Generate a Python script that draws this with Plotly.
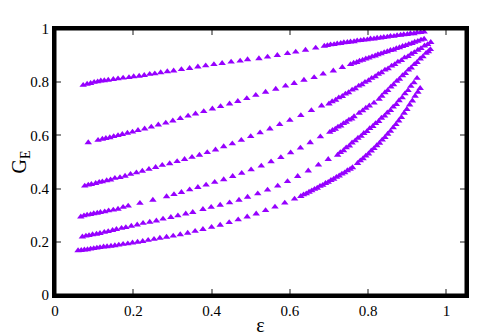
import plotly.graph_objects as go

# ---- data ----
eps1 = [0.072, 0.082, 0.091, 0.100, 0.109, 0.117, 0.126, 0.136, 0.149, 0.161, 0.174, 0.189, 0.201, 0.215, 0.228,
        0.242, 0.255, 0.270, 0.287, 0.303, 0.323, 0.344, 0.365, 0.385, 0.406, 0.427, 0.450, 0.473, 0.492, 0.521,
        0.543, 0.568, 0.594, 0.615, 0.640, 0.666,
        0.688, 0.696, 0.704, 0.713, 0.721, 0.730, 0.738, 0.747, 0.755, 0.764, 0.772, 0.781, 0.789, 0.798, 0.806,
        0.815, 0.823, 0.832, 0.840, 0.849, 0.857, 0.866, 0.874, 0.883, 0.891, 0.900, 0.908, 0.917, 0.925, 0.934, 0.943]
g1 = [0.789, 0.793, 0.796, 0.800, 0.802, 0.805, 0.806, 0.808, 0.811, 0.813, 0.816, 0.818, 0.821, 0.823, 0.826,
      0.830, 0.832, 0.836, 0.840, 0.843, 0.848, 0.852, 0.858, 0.862, 0.867, 0.871, 0.876, 0.880, 0.885, 0.889,
      0.895, 0.901, 0.908, 0.914, 0.921, 0.929,
      0.936, 0.938, 0.941, 0.942, 0.945, 0.946, 0.949, 0.950, 0.952, 0.953, 0.956, 0.957, 0.959, 0.960, 0.963,
      0.963, 0.966, 0.967, 0.969, 0.970, 0.973, 0.973, 0.976, 0.977, 0.979, 0.980, 0.983, 0.983, 0.986, 0.987, 0.989]

eps2 = [0.085, 0.110, 0.121, 0.130, 0.140, 0.150, 0.161, 0.172, 0.185, 0.198, 0.212, 0.229, 0.246, 0.264, 0.283,
        0.301, 0.320, 0.340, 0.359, 0.380, 0.402, 0.423, 0.446, 0.467, 0.490, 0.513, 0.538, 0.564, 0.589, 0.611,
        0.636, 0.662, 0.685, 0.711, 0.734,
        0.755, 0.763, 0.771, 0.778, 0.786, 0.794, 0.802, 0.810, 0.818, 0.825, 0.833, 0.841, 0.849, 0.857, 0.865,
        0.872, 0.880, 0.888, 0.896, 0.904, 0.912, 0.919, 0.927, 0.935, 0.943]
g2 = [0.573, 0.582, 0.586, 0.589, 0.592, 0.596, 0.600, 0.604, 0.609, 0.613, 0.619, 0.625, 0.632, 0.640, 0.647,
      0.655, 0.664, 0.673, 0.681, 0.690, 0.700, 0.709, 0.719, 0.728, 0.739, 0.751, 0.763, 0.774, 0.786, 0.796,
      0.808, 0.818, 0.831, 0.843, 0.856,
      0.867, 0.872, 0.875, 0.880, 0.883, 0.888, 0.891, 0.896, 0.899, 0.904, 0.907, 0.912, 0.915, 0.920, 0.922,
      0.927, 0.930, 0.935, 0.938, 0.943, 0.946, 0.951, 0.954, 0.959, 0.962]

eps3 = [0.076, 0.085, 0.093, 0.104, 0.113, 0.121, 0.132, 0.142, 0.153, 0.166, 0.179, 0.193, 0.208, 0.223, 0.240,
        0.257, 0.274, 0.293, 0.312, 0.331, 0.350, 0.369, 0.389, 0.410, 0.431, 0.453, 0.476, 0.500, 0.524, 0.549,
        0.574, 0.600, 0.628, 0.655, 0.681,
        0.700, 0.708, 0.717, 0.725, 0.734, 0.742, 0.750, 0.759, 0.767, 0.776, 0.784, 0.792, 0.801, 0.809, 0.818,
        0.826, 0.834, 0.843, 0.851, 0.860, 0.868, 0.876, 0.885, 0.893, 0.902, 0.910, 0.918, 0.927, 0.935, 0.944,
        0.952, 0.960]
g3 = [0.410, 0.414, 0.416, 0.420, 0.424, 0.426, 0.430, 0.433, 0.439, 0.442, 0.447, 0.454, 0.460, 0.466, 0.473,
      0.480, 0.488, 0.494, 0.502, 0.510, 0.518, 0.526, 0.536, 0.546, 0.558, 0.569, 0.582, 0.596, 0.610, 0.625,
      0.641, 0.657, 0.675, 0.694, 0.711,
      0.719, 0.727, 0.733, 0.742, 0.747, 0.756, 0.761, 0.771, 0.776, 0.786, 0.791, 0.800, 0.806, 0.815, 0.821,
      0.830, 0.836, 0.846, 0.851, 0.861, 0.867, 0.876, 0.882, 0.892, 0.897, 0.906, 0.912, 0.921, 0.927, 0.937,
      0.942, 0.950]

eps4 = [0.066, 0.074, 0.082, 0.091, 0.099, 0.108, 0.116, 0.127, 0.137, 0.149, 0.161, 0.174, 0.187, 0.217, 0.250,
        0.285, 0.304, 0.323, 0.344, 0.365, 0.386, 0.408, 0.431, 0.454, 0.477, 0.501, 0.527, 0.552, 0.577, 0.602,
        0.627, 0.652, 0.678,
        0.702, 0.709, 0.716, 0.723, 0.730, 0.737, 0.744, 0.751, 0.758, 0.764,
        0.777, 0.786, 0.794, 0.803, 0.815, 0.828,
        0.835, 0.843, 0.850, 0.858, 0.865, 0.873, 0.880, 0.888, 0.895, 0.903, 0.910, 0.918, 0.925, 0.933, 0.940,
        0.948, 0.954, 0.959]
g4 = [0.294, 0.298, 0.301, 0.303, 0.306, 0.308, 0.311, 0.313, 0.317, 0.320, 0.323, 0.330, 0.335, 0.345, 0.357,
      0.370, 0.378, 0.386, 0.396, 0.405, 0.414, 0.424, 0.434, 0.446, 0.458, 0.471, 0.485, 0.501, 0.517, 0.535,
      0.553, 0.573, 0.595,
      0.612, 0.619, 0.624, 0.632, 0.636, 0.645, 0.650, 0.658, 0.662, 0.671,
      0.684, 0.693, 0.703, 0.711, 0.722, 0.736,
      0.748, 0.761, 0.769, 0.782, 0.791, 0.804, 0.812, 0.825, 0.833, 0.846, 0.854, 0.867, 0.875, 0.888, 0.896,
      0.909, 0.915, 0.923]

eps5 = [0.070, 0.079, 0.087, 0.096, 0.106, 0.115, 0.126, 0.136, 0.147, 0.157, 0.170, 0.181, 0.195, 0.210, 0.225,
        0.242, 0.259, 0.276, 0.296, 0.314, 0.334, 0.352, 0.378, 0.399, 0.422, 0.446, 0.470, 0.492, 0.518, 0.543,
        0.569, 0.594, 0.620, 0.647, 0.673, 0.698,
        0.722, 0.729, 0.737, 0.744, 0.752, 0.759, 0.767, 0.774, 0.782, 0.789, 0.797, 0.804, 0.812, 0.819, 0.827,
        0.834, 0.842, 0.849, 0.857, 0.864, 0.872, 0.879, 0.887, 0.894, 0.902, 0.909, 0.917, 0.925]
g5 = [0.219, 0.222, 0.224, 0.227, 0.229, 0.232, 0.236, 0.239, 0.243, 0.247, 0.251, 0.254, 0.259, 0.264, 0.270,
      0.274, 0.279, 0.286, 0.292, 0.298, 0.305, 0.311, 0.322, 0.330, 0.338, 0.347, 0.357, 0.368, 0.381, 0.395,
      0.410, 0.427, 0.446, 0.467, 0.489, 0.510,
      0.526, 0.536, 0.543, 0.554, 0.561, 0.572, 0.580, 0.590, 0.597, 0.608, 0.615, 0.626, 0.634, 0.645, 0.653,
      0.665, 0.673, 0.685, 0.694, 0.707, 0.717, 0.731, 0.742, 0.757, 0.769, 0.785, 0.798, 0.815]

eps6 = [0.059, 0.067, 0.075, 0.083, 0.091, 0.099, 0.107, 0.115, 0.124, 0.133, 0.143, 0.153, 0.163, 0.174, 0.186,
        0.198, 0.211, 0.224, 0.238, 0.253, 0.268, 0.285, 0.302, 0.320, 0.339, 0.358, 0.378, 0.400, 0.422, 0.445,
        0.468, 0.491, 0.514, 0.538, 0.562, 0.587, 0.612,
        0.628, 0.635, 0.642, 0.649, 0.656, 0.663, 0.670, 0.677, 0.684, 0.691, 0.698, 0.705, 0.712, 0.719, 0.726,
        0.733, 0.740, 0.747, 0.754, 0.760,
        0.773, 0.780, 0.787, 0.794, 0.801, 0.808, 0.815, 0.822, 0.829, 0.836, 0.843, 0.850, 0.857, 0.864, 0.871,
        0.878, 0.885, 0.892, 0.899, 0.906, 0.913, 0.920, 0.927, 0.933]
g6 = [0.167, 0.168, 0.170, 0.171, 0.173, 0.175, 0.177, 0.179, 0.181, 0.182, 0.184, 0.186, 0.188, 0.191, 0.193,
      0.196, 0.199, 0.202, 0.206, 0.210, 0.214, 0.218, 0.222, 0.227, 0.233, 0.240, 0.247, 0.255, 0.263, 0.273,
      0.283, 0.294, 0.305, 0.318, 0.331, 0.346, 0.361,
      0.371, 0.377, 0.381, 0.387, 0.392, 0.398, 0.402, 0.409, 0.413, 0.420, 0.424, 0.431, 0.436, 0.443, 0.448,
      0.455, 0.460, 0.468, 0.473, 0.479,
      0.495, 0.505, 0.513, 0.523, 0.531, 0.542, 0.551, 0.562, 0.571, 0.583, 0.593, 0.605, 0.616, 0.629, 0.641,
      0.655, 0.668, 0.684, 0.698, 0.715, 0.730, 0.748, 0.763, 0.777]

curves = [(eps1, g1), (eps2, g2), (eps3, g3), (eps4, g4), (eps5, g5), (eps6, g6)]

x_ticks = [0, 0.2, 0.4, 0.6, 0.8, 1]
x_labels = ["0", "0.2", "0.4", "0.6", "0.8", "1"]
y_ticks = [0, 0.2, 0.4, 0.6, 0.8, 1]
y_labels = ["0", "0.2", "0.4", "0.6", "0.8", "1"]

MARK = "#9600ff"
FONT = "Liberation Serif, Times New Roman, serif"

fig = go.Figure()
for ex, gy in curves:
    fig.add_trace(go.Scatter(x=ex, y=gy, mode="markers",
                             marker=dict(symbol="triangle-up", size=6.5, color=MARK,
                                         line=dict(width=0)),
                             showlegend=False, hoverinfo="skip"))

axis_common = dict(showgrid=False, zeroline=False, showline=True, linecolor="black",
                   linewidth=3, mirror="allticks", ticks="inside", ticklen=6,
                   tickwidth=1.5, tickcolor="#8c8c8c", automargin=False,
                   tickfont=dict(family=FONT, size=15, color="black"))

# The page body has an 8px margin, so the figure is shifted 8px right/down;
# size and margins are reduced by 8px to keep the plot area where the reference has it.
fig.update_layout(
    width=488, height=328,
    margin=dict(l=47, r=30, t=21, b=41),
    paper_bgcolor="white", plot_bgcolor="white",
    font=dict(family=FONT, color="black"),
    xaxis=dict(range=[0, 1.05], tickvals=x_ticks, ticktext=x_labels,
               title=dict(text="ε", font=dict(family=FONT, size=20, color="black"), standoff=0),
               **axis_common),
    yaxis=dict(range=[0, 1], tickvals=y_ticks, ticktext=y_labels,
               title=dict(text="G<sub>E</sub>", font=dict(family=FONT, size=20, color="black"), standoff=8),
               **axis_common),
    shapes=[dict(type="rect", xref="paper", yref="paper", x0=0, y0=0, x1=1, y1=1,
                 line=dict(color="black", width=3), layer="above")],
)

fig.write_html("out.html")
